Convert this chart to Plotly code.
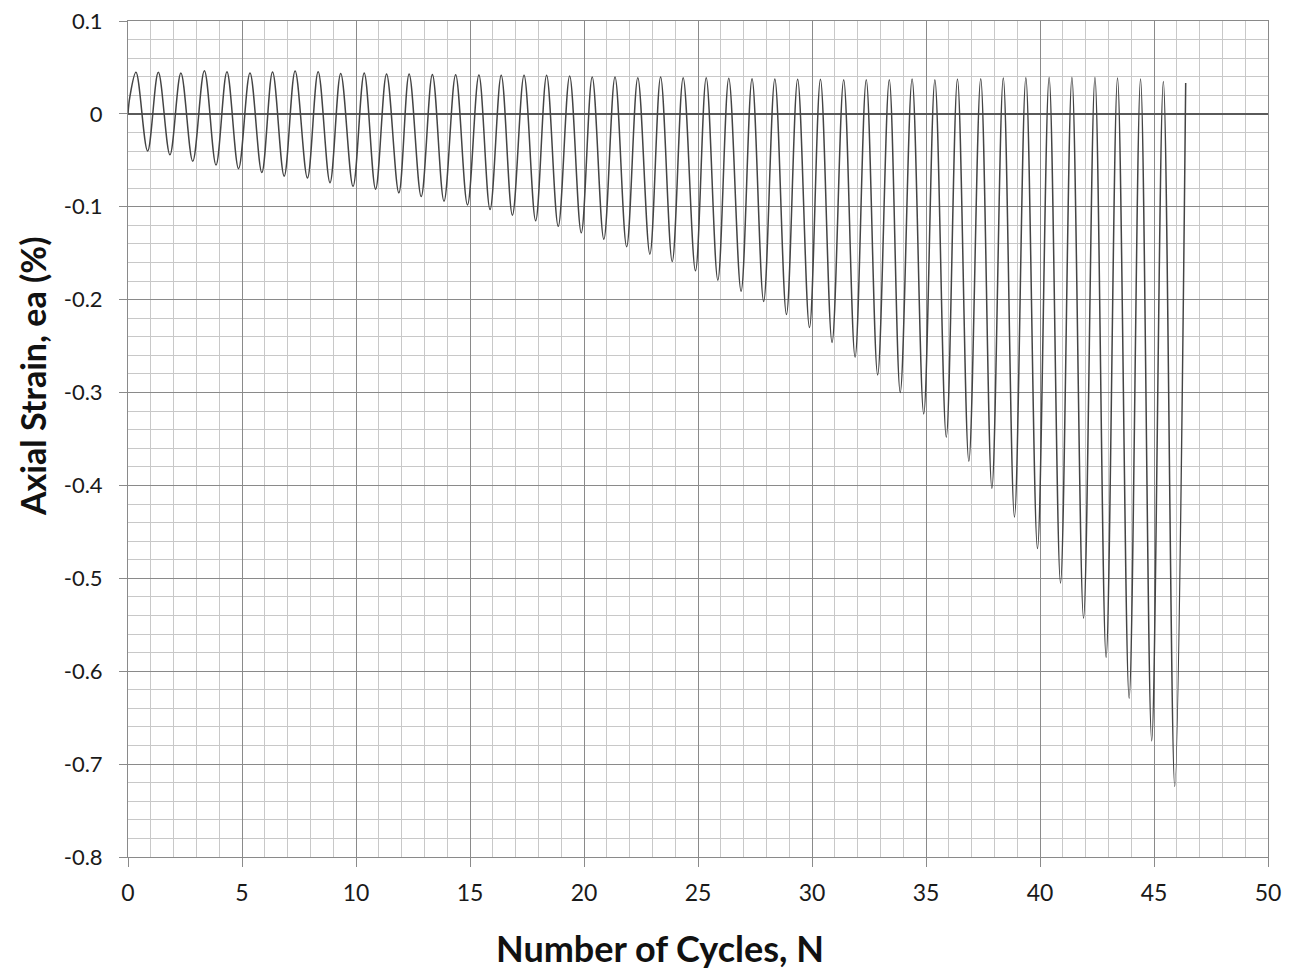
import plotly.graph_objects as go

# Peak positions (N) and peak strains (%)
peak_N = [0.35, 1.33, 2.32, 3.35, 4.34, 5.35, 6.34, 7.33, 8.34, 9.33, 10.36, 11.34,
          12.33, 13.35, 14.37, 15.39, 16.37, 17.37, 18.36, 19.37, 20.36, 21.36, 22.36,
          23.36, 24.35, 25.36, 26.35, 27.37, 28.37, 29.37, 30.37, 31.39, 32.38, 33.39,
          34.39, 35.39, 36.38, 37.40, 38.39, 39.38, 40.40, 41.40, 42.41, 43.40, 44.41, 45.41]
peak_ea = [0.0447, 0.0447, 0.0440, 0.0465, 0.0454, 0.0440, 0.0450, 0.0461, 0.0454, 0.0436,
           0.0440, 0.0429, 0.0429, 0.0425, 0.0422, 0.0418, 0.0415, 0.0415, 0.0415, 0.0408,
           0.0397, 0.0397, 0.0390, 0.0397, 0.0390, 0.0390, 0.0383, 0.0379, 0.0375, 0.0372,
           0.0372, 0.0368, 0.0368, 0.0368, 0.0375, 0.0368, 0.0375, 0.0379, 0.0386, 0.0390,
           0.0393, 0.0393, 0.0393, 0.0386, 0.0375, 0.0350]

# Trough positions (N) and trough strains (%)
trough_N = [0.86, 1.84, 2.84, 3.86, 4.85, 5.87, 6.85, 7.87, 8.86, 9.87, 10.86, 11.88,
            12.86, 13.86, 14.89, 15.88, 16.86, 17.88, 18.87, 19.88, 20.87, 21.87, 22.89,
            23.87, 24.89, 25.87, 26.89, 27.88, 28.88, 29.89, 30.88, 31.89, 32.88, 33.87,
            34.90, 35.89, 36.88, 37.89, 38.88, 39.89, 40.90, 41.91, 42.90, 43.91, 44.90, 45.91]
trough_ea = [-0.040, -0.044, -0.051, -0.055, -0.059, -0.063, -0.067, -0.069, -0.074, -0.078,
             -0.081, -0.085, -0.089, -0.094, -0.098, -0.103, -0.109, -0.115, -0.121, -0.128,
             -0.135, -0.143, -0.151, -0.159, -0.169, -0.179, -0.191, -0.202, -0.216, -0.230,
             -0.246, -0.262, -0.281, -0.300, -0.323, -0.348, -0.374, -0.403, -0.434, -0.468,
             -0.505, -0.543, -0.585, -0.629, -0.675, -0.724]

# Start and end points of the record
start_N = [0.0, 0.08]
start_ea = [0.0, 0.018]
end_N = [46.39]
end_ea = [0.0332]

x_ticks = [0, 5, 10, 15, 20, 25, 30, 35, 40, 45, 50]
y_ticks = [0.1, 0, -0.1, -0.2, -0.3, -0.4, -0.5, -0.6, -0.7, -0.8]
y_tick_text = ["0.1", "0", "-0.1", "-0.2", "-0.3", "-0.4", "-0.5", "-0.6", "-0.7", "-0.8"]

# Assemble the record: start, then alternating peak / trough, then end
xs = list(start_N)
ys = list(start_ea)
for pn, pe, tn, te in zip(peak_N, peak_ea, trough_N, trough_ea):
    xs += [pn, tn]
    ys += [pe, te]
xs += end_N
ys += end_ea

fig = go.Figure()
fig.add_trace(go.Scatter(
    x=xs, y=ys, mode="lines",
    line=dict(color="#444444", width=1.5, shape="spline", smoothing=1.0),
    showlegend=False, hoverinfo="skip",
))

font_family = "Lato, 'Open Sans', sans-serif"

fig.update_layout(
    width=1283, height=967,
    margin=dict(l=120, r=23, t=13, b=118, autoexpand=False),
    paper_bgcolor="white", plot_bgcolor="white",
    font=dict(family=font_family, size=23, color="#1a1a1a"),
    showlegend=False,
    xaxis=dict(
        range=[0, 50], tickvals=x_ticks, ticktext=[str(v) for v in x_ticks],
        showgrid=True, gridcolor="#8a8a8a", gridwidth=1,
        minor=dict(dtick=1, showgrid=True, gridcolor="#c8c8c8", gridwidth=1),
        showline=True, linecolor="#8a8a8a", linewidth=1, mirror=True,
        ticks="outside", ticklen=9, tickcolor="#8a8a8a", tickwidth=1,
        zeroline=False, tickfont=dict(size=23, color="#1a1a1a"),
        ticklabelstandoff=6, ticklabeloverflow="allow", automargin=False,
    ),
    yaxis=dict(
        range=[-0.8, 0.1], tickvals=y_ticks, ticktext=y_tick_text,
        showgrid=True, gridcolor="#8a8a8a", gridwidth=1,
        minor=dict(dtick=0.02, tick0=0, showgrid=True, gridcolor="#c8c8c8", gridwidth=1),
        showline=True, linecolor="#8a8a8a", linewidth=1, mirror=True,
        ticks="outside", ticklen=8, tickcolor="#8a8a8a", tickwidth=1,
        zeroline=True, zerolinecolor="#5a5a5a", zerolinewidth=2,
        tickfont=dict(size=22, color="#1a1a1a"), ticklabelstandoff=12,
        ticklabeloverflow="allow", automargin=False,
    ),
    annotations=[
        dict(text="<b>Number of Cycles, N</b>", xref="paper", yref="paper",
             x=(660 - 128) / 1140, y=-(948 - 857) / 836, xanchor="center", yanchor="middle",
             showarrow=False, font=dict(family=font_family, size=36, color="#111111")),
        dict(text="<b>Axial Strain, ea (%)</b>", xref="paper", yref="paper",
             x=-(128 - 32) / 1140, y=(857 - 377) / 836, xanchor="center", yanchor="middle",
             textangle=-90, showarrow=False,
             font=dict(family=font_family, size=34, color="#111111")),
    ],
)

fig.write_html("out.html")
